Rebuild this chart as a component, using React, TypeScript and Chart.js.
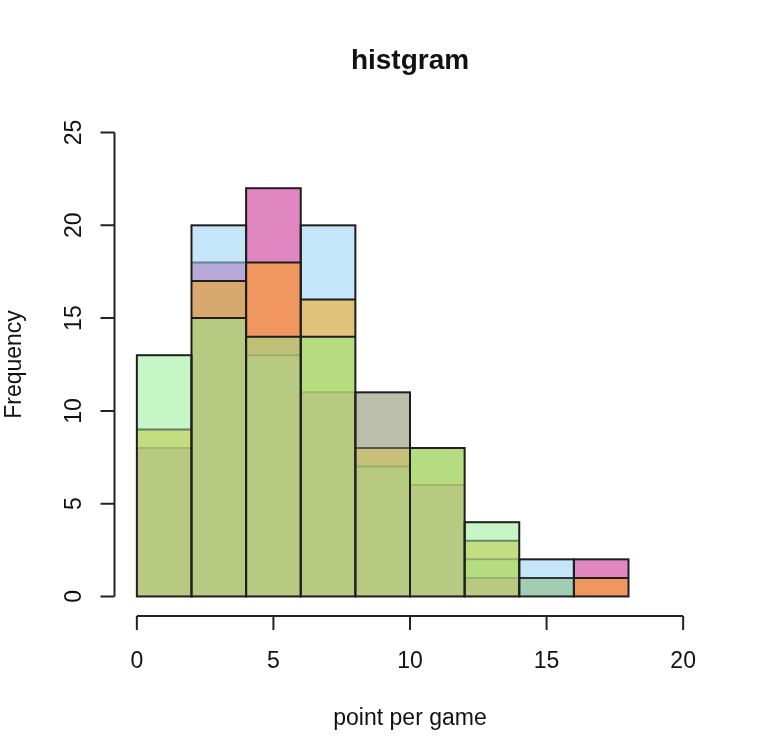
import { useEffect, useRef } from "react";
import { Chart, registerables } from "chart.js";

Chart.register(...registerables);

// ---- text ----
const TITLE = "histgram";
const X_LABEL = "point per game";
const Y_LABEL = "Frequency";

// ---- bins (point per game) ----
const binLow = [0, 2, 4, 6, 8, 10, 12, 14, 16];
const binHigh = [2, 4, 6, 8, 10, 12, 14, 16, 18];

// ---- visible frequency levels of the overlaid histograms (highest first) ----
const level1 = [13, 20, 22, 20, 11, 8, 4, 2, 2];
const level2 = [9, 18, 18, 16, 8, 6, 3, 1, 1];
const level3: (number | null)[] = [8, 17, 14, 14, 7, null, 2, null, null];
const level4: (number | null)[] = [null, 15, 13, 11, null, null, 1, null, null];

// ---- axis ticks ----
const xTicks = [0, 5, 10, 15, 20];
const yTicks = [0, 5, 10, 15, 20, 25];

// ---- styles ----
const COL = {
  lgreen: "#C6F5C6",
  lblue: "#C5E6F8",
  pink: "#E087C1",
  gray: "#BBBEA9",
  green: "#B6DC80",
  ygreen: "#C4DD80",
  purple: "#B8AAD8",
  orange: "#F0975F",
  tan: "#E1C27B",
  tan2: "#D9A86F",
  tanolive: "#C6C07A",
  oyellow: "#C1C078",
  olive: "#B8CA82",
  teal: "#A2CDB5",
};
const level1Colors = [COL.lgreen, COL.lblue, COL.pink, COL.lblue, COL.gray, COL.green, COL.lgreen, COL.lblue, COL.pink];
const level2Colors = [COL.ygreen, COL.purple, COL.orange, COL.tan, COL.tanolive, COL.olive, COL.ygreen, COL.teal, COL.orange];
const level3Colors = [COL.olive, COL.tan2, COL.oyellow, COL.green, COL.olive, COL.olive, COL.green, COL.olive, COL.olive];
const level4Colors = [COL.olive, COL.olive, COL.olive, COL.olive, COL.olive, COL.olive, COL.olive, COL.olive, COL.olive];

const DARK = "#1e1e1e";
const level2Lines = ["#5E7F6A", "#5F8499", DARK, DARK, "#55584a", "#9DBA68", "#6A8A6A", "#333", DARK];
const level3Lines = ["#A5B870", DARK, DARK, DARK, "#9DB068", "#9DB068", "#8CAE6C", "#333", DARK];
const level4Lines = ["#9AB060", DARK, "#9AB060", "#9CB868", "#9AB060", "#9AB060", "#94B470", "#333", DARK];

const FONT = "'Liberation Sans', Arial, Helvetica, sans-serif";

function levelDataset(values: (number | null)[], colors: string[], lines: string[], order: number) {
  const data: { x: number; y: number }[] = [];
  const bg: string[] = [];
  const lc: string[] = [];
  values.forEach((v, i) => {
    if (v !== null && v !== undefined) {
      data.push({ x: (binLow[i] + binHigh[i]) / 2, y: v });
      bg.push(colors[i]);
      lc.push(lines[i]);
    }
  });
  return {
    type: "bar" as const,
    data,
    backgroundColor: bg,
    lineColors: lc,
    borderWidth: 0,
    grouped: false,
    barPercentage: 1,
    categoryPercentage: 1,
    order,
  };
}

const rPlot = {
  id: "rPlot",
  afterDatasetsDraw(chart: any) {
    const ctx: CanvasRenderingContext2D = chart.ctx;
    ctx.save();
    // boundaries of lower levels
    for (let d = 1; d < chart.data.datasets.length; d++) {
      const ds = chart.data.datasets[d];
      const meta = chart.getDatasetMeta(d);
      meta.data.forEach((el: any, j: number) => {
        ctx.strokeStyle = ds.lineColors[j];
        ctx.lineWidth = 2;
        ctx.beginPath();
        ctx.moveTo(el.x - el.width / 2, el.y);
        ctx.lineTo(el.x + el.width / 2, el.y);
        ctx.stroke();
      });
    }
    // outlines of the bars
    const meta0 = chart.getDatasetMeta(0);
    ctx.strokeStyle = DARK;
    ctx.lineWidth = 2;
    meta0.data.forEach((el: any) => {
      const l = el.x - el.width / 2;
      ctx.strokeRect(l, el.y, el.width, el.base - el.y);
    });
    ctx.restore();
  },
  afterDraw(chart: any) {
    const ctx: CanvasRenderingContext2D = chart.ctx;
    const xs = chart.scales.x;
    const ys = chart.scales.y;
    const area = chart.chartArea;
    ctx.save();
    ctx.strokeStyle = "#222";
    ctx.fillStyle = "#111";
    ctx.lineWidth = 2;

    // x axis
    const xAxisY = area.bottom + 1;
    const x0 = xs.getPixelForValue(xTicks[0]);
    const x1 = xs.getPixelForValue(xTicks[xTicks.length - 1]);
    ctx.beginPath();
    ctx.moveTo(x0, xAxisY);
    ctx.lineTo(x1, xAxisY);
    xTicks.forEach((t) => {
      const px = xs.getPixelForValue(t);
      ctx.moveTo(px, xAxisY);
      ctx.lineTo(px, xAxisY + 14);
    });
    ctx.stroke();
    ctx.font = `23px ${FONT}`;
    ctx.textAlign = "center";
    ctx.textBaseline = "alphabetic";
    xTicks.forEach((t) => {
      ctx.fillText(String(t), xs.getPixelForValue(t), 668);
    });

    // y axis
    const yAxisX = area.left - 0.5;
    const y0 = ys.getPixelForValue(yTicks[0]);
    const y1 = ys.getPixelForValue(yTicks[yTicks.length - 1]);
    ctx.beginPath();
    ctx.moveTo(yAxisX, y0);
    ctx.lineTo(yAxisX, y1);
    yTicks.forEach((t) => {
      const py = ys.getPixelForValue(t);
      ctx.moveTo(yAxisX, py);
      ctx.lineTo(yAxisX - 14, py);
    });
    ctx.stroke();
    yTicks.forEach((t) => {
      const py = ys.getPixelForValue(t);
      ctx.save();
      ctx.translate(80.5, py);
      ctx.rotate(-Math.PI / 2);
      ctx.textAlign = "center";
      ctx.fillText(String(t), 0, 0);
      ctx.restore();
    });

    // axis titles
    const cx = (area.left + area.right) / 2;
    const cy = (area.top + area.bottom) / 2;
    ctx.textAlign = "center";
    ctx.fillText(X_LABEL, cx, 725);
    ctx.save();
    ctx.translate(21, cy);
    ctx.rotate(-Math.PI / 2);
    ctx.fillText(Y_LABEL, 0, 0);
    ctx.restore();

    // main title
    ctx.font = `bold 28px ${FONT}`;
    ctx.fillText(TITLE, cx, 69);
    ctx.restore();
  },
};

export default function App() {
  const ref = useRef<HTMLCanvasElement | null>(null);
  useEffect(() => {
    if (!ref.current) return;
    const chart = new Chart(ref.current, {
      type: "bar",
      data: {
        datasets: [
          levelDataset(level1, level1Colors, level1Colors, 4),
          levelDataset(level2, level2Colors, level2Lines, 3),
          levelDataset(level3, level3Colors, level3Lines, 2),
          levelDataset(level4, level4Colors, level4Lines, 1),
        ] as any,
      },
      options: {
        responsive: false,
        animation: false,
        layout: { padding: { left: 115, right: 52, top: 114, bottom: 138 } },
        plugins: {
          legend: { display: false },
          title: { display: false },
          tooltip: { enabled: false },
        },
        scales: {
          x: {
            type: "linear",
            min: -0.8,
            max: 20.8,
            offset: false,
            display: false,
            ticks: { stepSize: 5, includeBounds: false },
          },
          y: {
            type: "linear",
            min: -1,
            max: 26,
            display: false,
            ticks: { stepSize: 5, includeBounds: false },
          },
        },
      },
      plugins: [rPlot],
    });
    return () => chart.destroy();
  }, []);
  return (
    <div style={{ position: "absolute", left: 0, top: 0, width: 757, height: 753, background: "#fff" }}>
      <canvas ref={ref} width={757} height={753} style={{ display: "block" }} />
    </div>
  );
}
